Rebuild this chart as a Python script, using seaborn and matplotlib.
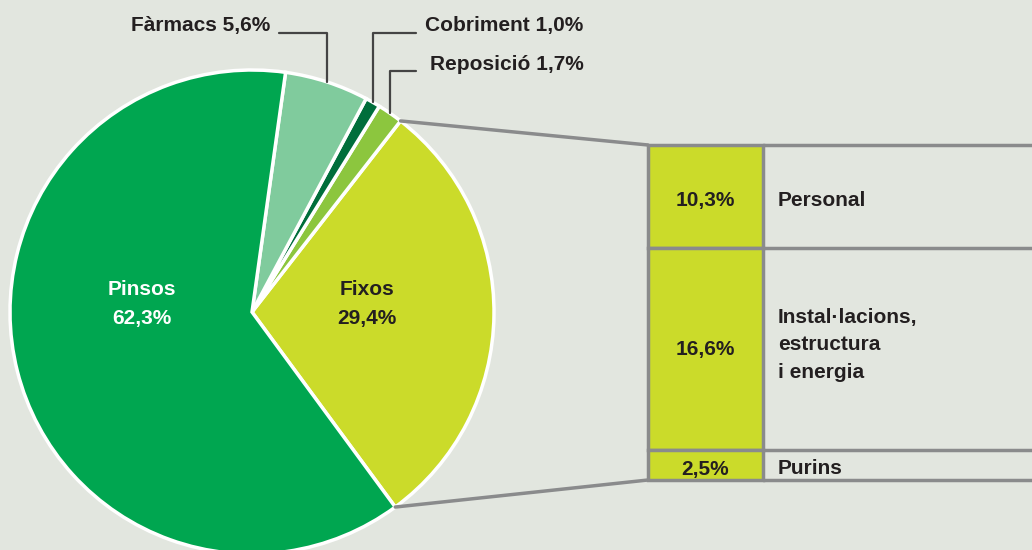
import numpy as np
import matplotlib
matplotlib.use("Agg")
import matplotlib.pyplot as plt
import seaborn as sns

# pie data (counterclockwise from the lower edge of Fixos)
categories = ["Fixos", "Reposició", "Cobriment", "Fàrmacs", "Pinsos"]
values = [29.4, 1.7, 1.0, 5.6, 62.3]
value_labels = ["29,4%", "1,7%", "1,0%", "5,6%", "62,3%"]
colors = ["#cbdb2a", "#8cc63e", "#006e3b", "#80cb9d", "#00a650"]

# breakdown of Fixos
fixos_parts = ["Personal", "Instal·lacions,\nestructura\ni energia", "Purins"]
fixos_values = [10.3, 16.6, 2.5]
fixos_labels = ["10,3%", "16,6%", "2,5%"]

bg = "#e2e6df"
txt = "#231f20"
grey = "#8a8b8c"

sns.set_style("white")
plt.rcParams["font.family"] = ["Liberation Sans", "DejaVu Sans"]

fig = plt.figure(figsize=(10.32, 5.5), dpi=100, facecolor=bg)
ax = fig.add_axes([0, 0, 1, 1])
ax.set_facecolor(bg)

cx, cy, r = 252, 238, 242
start = -53.7
wedges, _ = ax.pie(values, colors=colors, startangle=start, counterclock=True,
                   center=(cx, cy), radius=r, frame=True,
                   wedgeprops=dict(edgecolor="white", linewidth=2.5))
ax.set_xlim(0, 1032)
ax.set_ylim(0, 550)
ax.set_aspect("equal")
ax.axis("off")

fs = 15
# inner labels
ax.text(142, 246, "Pinsos\n62,3%", color="white", fontsize=fs, fontweight="bold",
        ha="center", va="center", linespacing=1.65)
ax.text(367, 246, "Fixos\n29,4%", color=txt, fontsize=fs, fontweight="bold",
        ha="center", va="center", linespacing=1.65)

# leader lines for small slices
def on_circle(w):
    a = np.deg2rad((w.theta1 + w.theta2) / 2)
    return cx + r * np.cos(a), cy + r * np.sin(a)

lw = 1.6
# Fàrmacs
x0, y0 = on_circle(wedges[3])
ax.plot([x0, x0, 279], [y0, 517, 517], color="#444444", lw=lw)
ax.text(270, 524, f"{categories[3]} {value_labels[3]}", color=txt, fontsize=fs,
        fontweight="bold", ha="right", va="center")
# Cobriment
x0, y0 = on_circle(wedges[2])
ax.plot([x0, x0, 416], [y0, 517, 517], color="#444444", lw=lw)
ax.text(425, 524, f"{categories[2]} {value_labels[2]}", color=txt, fontsize=fs,
        fontweight="bold", ha="left", va="center")
# Reposició
x0, y0 = on_circle(wedges[1])
ax.plot([x0, x0, 416], [y0, 479, 479], color="#444444", lw=lw)
ax.text(430, 485, f"{categories[1]} {value_labels[1]}", color=txt, fontsize=fs,
        fontweight="bold", ha="left", va="center")

# stacked breakdown box (row heights as drawn in the original)
bx0, bx1 = 648, 763
box_top = 550 - 145
row_h = [103, 202, 30]
top = box_top
for part, h, lab in zip(fixos_parts, row_h, fixos_labels):
    ax.bar(bx0, -h, bottom=top, width=bx1 - bx0, align="edge", color=colors[0],
           edgecolor=grey, linewidth=2.5, zorder=2)
    ax.plot([bx1, 1032], [top, top], color=grey, lw=2.5, zorder=3)
    ym = top - h / 2
    dy = 4 if "\n" in part else -4
    ax.text((bx0 + bx1) / 2, ym + (0 if "\n" in part else -4), lab, color=txt,
            fontsize=fs, fontweight="bold", ha="center", va="center", zorder=4)
    ax.text(778, ym + dy, part, color=txt, fontsize=fs, fontweight="bold",
            ha="left", va="center", linespacing=1.55, zorder=4)
    top -= h
ax.plot([bx1, 1032], [top, top], color=grey, lw=2.5, zorder=3)

# connector lines from Fixos slice to box
a2 = np.deg2rad(wedges[0].theta2)
a1 = np.deg2rad(wedges[0].theta1)
ax.plot([cx + r * np.cos(a2), bx0], [cy + r * np.sin(a2), box_top], color=grey, lw=2.5, zorder=1)
ax.plot([cx + r * np.cos(a1), bx0], [cy + r * np.sin(a1), top], color=grey, lw=2.5, zorder=1)

fig.savefig("out.png", dpi=100, facecolor=bg)
